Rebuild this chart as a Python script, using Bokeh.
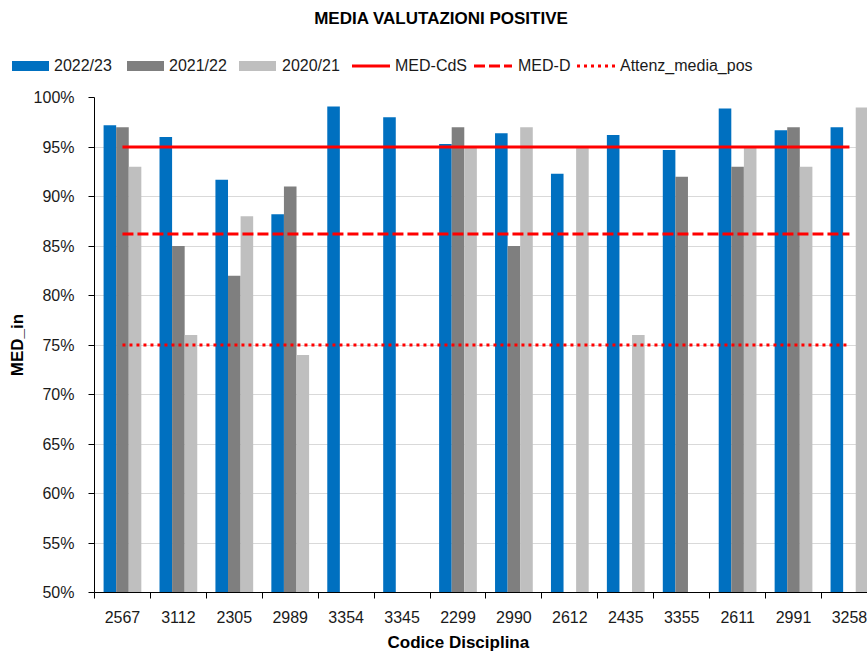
from bokeh.plotting import figure
from bokeh.layouts import column
from bokeh.models import (ColumnDataSource, Range1d, FixedTicker, NumeralTickFormatter,
                          Title, Div)
from bokeh.transform import dodge
from bokeh.embed import file_html
from bokeh.resources import INLINE

NAN = float("nan")

categories = ["2567", "3112", "2305", "2989", "3354", "3345", "2299",
              "2990", "2612", "2435", "3355", "2611", "2991", "3258"]
v_2022_23 = [0.972, 0.960, 0.917, 0.882, 0.991, 0.980, 0.953,
             0.964, 0.923, 0.962, 0.947, 0.989, 0.967, 0.970]
v_2021_22 = [0.97, 0.85, 0.82, 0.91, NAN, NAN, 0.97,
             0.85, NAN, NAN, 0.92, 0.93, 0.97, NAN]
v_2020_21 = [0.93, 0.76, 0.88, 0.74, NAN, NAN, 0.95,
             0.97, 0.95, 0.76, NAN, 0.95, 0.93, 0.99]
med_cds = [0.95, 0.95, 0.95, 0.95, 0.95, 0.95, 0.95,
           0.95, 0.95, 0.95, 0.95, 0.95, 0.95, 0.95]
med_d = [0.862, 0.862, 0.862, 0.862, 0.862, 0.862, 0.862,
         0.862, 0.862, 0.862, 0.862, 0.862, 0.862, 0.862]
attenz_media_pos = [0.75, 0.75, 0.75, 0.75, 0.75, 0.75, 0.75,
                    0.75, 0.75, 0.75, 0.75, 0.75, 0.75, 0.75]
y_ticks = [0.50, 0.55, 0.60, 0.65, 0.70, 0.75, 0.80, 0.85, 0.90, 0.95, 1.00]
series_names = ["2022/23", "2021/22", "2020/21"]
line_names = ["MED-CdS", "MED-D", "Attenz_media_pos"]
chart_title = "MEDIA VALUTAZIONI POSITIVE"
x_title = "Codice Disciplina"
y_title = "MED_in"

FONT = "Liberation Sans"
TXT = "#1a1a1a"
BAR_COLORS = ["#0070C0", "#7F7F7F", "#BFBFBF"]
RED = "#FF0000"
DASHES = ["solid", "11 4", "3 4"]
SVG_DASH = ["none", "11 4", "3 4"]

HEADER_H = 87

xs = [i + 0.5 for i in range(len(categories))]
bounds = [i for i in range(len(categories) + 1)]

source = ColumnDataSource(dict(x=xs, cat=categories, a=v_2022_23, b=v_2021_22,
                               c=v_2020_21, cds=med_cds, d=med_d, att=attenz_media_pos))

# ---------------- main chart ----------------
p = figure(width=867, height=657 - HEADER_H, x_range=Range1d(0, 13.823), y_range=Range1d(0.5, 1.0),
           output_backend="svg", toolbar_location=None,
           min_border_left=94, min_border_right=0, min_border_top=10, min_border_bottom=63)
p.outline_line_color = None
p.background_fill_color = "white"
p.border_fill_color = "white"

bw = 0.225
base = p.y_range.start
for off, col, color, name in zip([-bw, 0.0, bw], ["a", "b", "c"], BAR_COLORS, series_names):
    p.vbar(x=dodge("x", off), top=col, bottom=base, width=bw, source=source,
           fill_color=color, line_color=None, name=name)
for col, dash, name in zip(["cds", "d", "att"], DASHES, line_names):
    p.line(x="x", y=col, source=source, line_color=RED, line_width=3, line_dash=dash, name=name)

p.yaxis.ticker = FixedTicker(ticks=y_ticks)
p.yaxis.formatter = NumeralTickFormatter(format="0%")
p.yaxis.axis_line_color = "black"
p.yaxis.major_tick_line_color = "black"
p.yaxis.major_tick_out = 6
p.yaxis.major_tick_in = 0
p.yaxis.minor_tick_line_color = None
p.yaxis.major_label_standoff = 14
p.yaxis.major_label_text_font = FONT
p.yaxis.major_label_text_font_size = "16px"
p.yaxis.major_label_text_color = TXT
p.yaxis.axis_label = y_title
p.yaxis.axis_label_text_font = FONT
p.yaxis.axis_label_text_font_style = "bold"
p.yaxis.axis_label_text_font_size = "17px"
p.yaxis.axis_label_text_color = "black"
p.yaxis.axis_label_standoff = 4

p.xaxis.ticker = FixedTicker(ticks=xs, minor_ticks=bounds)
p.xaxis.major_label_overrides = {x: c for x, c in zip(xs, categories)}
p.xaxis.axis_line_color = "black"
p.xaxis.major_tick_line_color = None
p.xaxis.major_tick_out = 0
p.xaxis.major_tick_in = 0
p.xaxis.minor_tick_line_color = "black"
p.xaxis.minor_tick_out = 6
p.xaxis.minor_tick_in = 0
p.xaxis.major_label_standoff = 12
p.xaxis.major_label_text_font = FONT
p.xaxis.major_label_text_font_size = "16px"
p.xaxis.major_label_text_color = TXT

p.ygrid.ticker = FixedTicker(ticks=y_ticks)
p.ygrid.grid_line_color = "#D9D9D9"
p.ygrid.grid_line_width = 1
p.xgrid.visible = False

p.add_layout(Title(text=x_title, align="left", offset=293,
                   text_font=FONT, text_font_style="bold", text_font_size="17px",
                   text_color="black", standoff=11), "below")

# ---------------- header: title + legend ----------------
bar_swatch_left = [12, 127, 239]
bar_text_left = [54, 169, 282]
line_swatch_left = [352, 474, 577]
line_text_left = [395, 518, 620]

parts = []
parts.append(
    f'<div style="position:absolute;left:0;top:9px;width:882px;text-align:center;'
    f'font-weight:bold;font-size:17px;line-height:20px;color:black;">{chart_title}</div>')
for name, color, sl, tl in zip(series_names, BAR_COLORS, bar_swatch_left, bar_text_left):
    parts.append(f'<div style="position:absolute;left:{sl}px;top:61px;width:37px;height:10px;'
                 f'background:{color};"></div>')
    parts.append(f'<div style="position:absolute;left:{tl}px;top:56px;line-height:20px;'
                 f'font-size:16px;color:{TXT};white-space:nowrap;">{name}</div>')
for name, dash, sl, tl in zip(line_names, SVG_DASH, line_swatch_left, line_text_left):
    da = "" if dash == "none" else f' stroke-dasharray="{dash}"'
    parts.append(f'<svg style="position:absolute;left:{sl}px;top:60px;" width="38" height="12">'
                 f'<line x1="0" y1="6" x2="38" y2="6" stroke="{RED}" stroke-width="3"{da}/></svg>')
    parts.append(f'<div style="position:absolute;left:{tl}px;top:56px;line-height:20px;'
                 f'font-size:16px;color:{TXT};white-space:nowrap;">{name}</div>')

html = (f'<div style="position:relative;width:867px;height:{HEADER_H}px;overflow:hidden;'
        f'font-family:\'{FONT}\';background:white;">' + "".join(parts) + '</div>')
header = Div(text=html, width=867, height=HEADER_H, margin=0)

layout = column(header, p, spacing=0)
open("out.html", "w").write(file_html(layout, INLINE))
